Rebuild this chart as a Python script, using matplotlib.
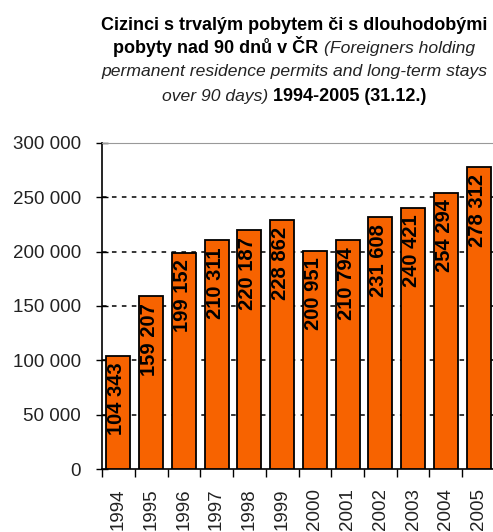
import numpy as np
import matplotlib
matplotlib.use("Agg")
import matplotlib.pyplot as plt

# data
years = [str(y) for y in range(1994, 2006)]
values = [104343, 159207, 199152, 210311, 220187, 228862,
          200951, 210794, 231608, 240421, 254294, 278312]
value_labels = ["104 343", "159 207", "199 152", "210 311", "220 187", "228 862",
                "200 951", "210 794", "231 608", "240 421", "254 294", "278 312"]
yticks = [0, 50000, 100000, 150000, 200000, 250000, 300000]
ytick_labels = ["0", "50 000", "100 000", "150 000", "200 000", "250 000", "300 000"]

W, H = 493, 532
fig = plt.figure(figsize=(W / 100, H / 100), dpi=100)
ax = fig.add_axes([102 / W, 1 - 469 / H, 393 / W, 326 / H])

x = np.arange(len(years))
ax.bar(x, values, width=0.73, color="#F76300", edgecolor="black", linewidth=1.3, zorder=3)
for v in yticks[1:-1]:
    ax.axhline(v, color="black", lw=1.1, ls=(0, (3, 3.5)), zorder=1)

for i, (v, lab) in enumerate(zip(values, value_labels)):
    ax.annotate(lab, (i, v), xytext=(-1, -5), textcoords="offset points",
                rotation=90, ha="center", va="top", fontsize=14.5,
                fontweight="bold", family="Liberation Sans", zorder=4)

ax.set_xlim(-0.5, 11.5)
ax.set_ylim(0, 300000)
ax.set_yticks(yticks)
ax.set_yticklabels(ytick_labels, fontsize=13.5, family="Liberation Sans", color="#222222")
ax.tick_params(axis="y", direction="inout", length=8, width=1, pad=11)

ax.set_xticks(x)
ax.set_xticklabels(years, rotation=90, fontsize=13.5, family="Liberation Sans", color="#222222")
ax.tick_params(axis="x", which="major", length=0, pad=14)
ax.set_xticks(np.arange(-0.5, 12, 1), minor=True)
ax.tick_params(axis="x", which="minor", direction="out", length=6, width=1)

ax.spines["top"].set_color("#999999")
ax.spines["right"].set_visible(False)
ax.spines["left"].set_linewidth(1.2)
ax.spines["bottom"].set_linewidth(1.2)

# title, mixed bold / italic pieces
bold = dict(fontsize=13, fontweight="bold", family="Liberation Sans")
ital = dict(fontsize=12.6, style="italic", family="Liberation Sans", color="#222222")
title_lines = [
    (30, [("Cizinci s trvalým pobytem či s dlouhodobými", bold)]),
    (53, [("pobyty nad 90 dnů v ČR", bold), ("(Foreigners holding", ital)]),
    (76, [("permanent residence permits and long-term stays", ital)]),
    (101, [("over 90 days)", ital), ("1994-2005 (31.12.)", bold)]),
]
cx = 294
gap = 5
fig.canvas.draw()
r = fig.canvas.get_renderer()
for ypix, parts in title_lines:
    texts = [fig.text(0, 1 - ypix / H, s, va="baseline", ha="left", **kw) for s, kw in parts]
    widths = [t.get_window_extent(r).width for t in texts]
    total = sum(widths) + gap * (len(texts) - 1)
    x0 = cx - total / 2
    for t, w in zip(texts, widths):
        t.set_x(x0 / W)
        x0 += w + gap

fig.savefig("out.png", dpi=100)
